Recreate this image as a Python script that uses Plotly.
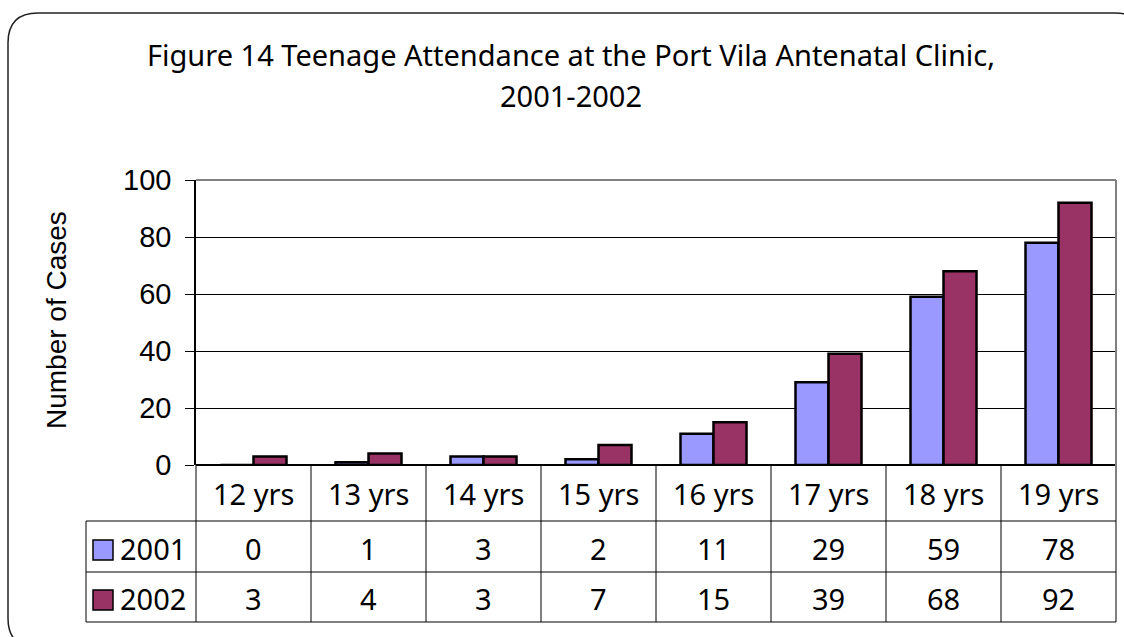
# Teenage attendance chart - grouped bars with a data table underneath,
# drawn the way the old spreadsheet chart looked.

import plotly.graph_objects as go

# data
age_groups = ["12 yrs", "13 yrs", "14 yrs", "15 yrs", "16 yrs", "17 yrs", "18 yrs", "19 yrs"]
cases_2001 = [0, 1, 3, 2, 11, 29, 59, 78]
cases_2002 = [3, 4, 3, 7, 15, 39, 68, 92]
series_names = ["2001", "2002"]
series_colors = ["#9999FF", "#993366"]
y_ticks = [0, 20, 40, 60, 80, 100]

W, H = 1124, 637
PLOT_L, PLOT_R, PLOT_T, PLOT_B = 196, 1116, 180, 465

TABLE_FONT = "Noto Sans, DejaVu Sans, sans-serif"
AXIS_FONT = "Liberation Sans, Arial, sans-serif"


def px_x(px):
    # pixel column -> paper x
    return (px - PLOT_L) / (PLOT_R - PLOT_L)


def px_y(py):
    # pixel row -> paper y
    return (PLOT_B - py) / (PLOT_B - PLOT_T)


def label(x, y, text, size=29, family=TABLE_FONT, xref="paper", xanchor="center", angle=0):
    # plain text annotation, anchored explicitly so paper-ref auto anchoring doesn't move it
    return dict(x=x, xref=xref, y=y, yref="paper", text=text, showarrow=False,
                xanchor=xanchor, yanchor="middle", textangle=angle,
                font=dict(family=family, size=size, color="black"))


fig = go.Figure()

for name, values, color in zip(series_names, [cases_2001, cases_2002], series_colors):
    fig.add_trace(go.Bar(
        x=age_groups,
        y=values,
        name=name,
        marker=dict(color=color, line=dict(color="black", width=2.5)),
        showlegend=False,
    ))

shapes = []
annotations = []

# rounded outer frame (runs off the right and bottom edges like the original)
x0, y0, x1, y1, r = 8, 13, 1145, 648, 30
frame_path = (
    f"M {px_x(x0)},{px_y(y0 + r)} "
    f"Q {px_x(x0)},{px_y(y0)} {px_x(x0 + r)},{px_y(y0)} "
    f"L {px_x(x1 - r)},{px_y(y0)} "
    f"Q {px_x(x1)},{px_y(y0)} {px_x(x1)},{px_y(y0 + r)} "
    f"L {px_x(x1)},{px_y(y1 - r)} "
    f"Q {px_x(x1)},{px_y(y1)} {px_x(x1 - r)},{px_y(y1)} "
    f"L {px_x(x0 + r)},{px_y(y1)} "
    f"Q {px_x(x0)},{px_y(y1)} {px_x(x0)},{px_y(y1 - r)} Z"
)
shapes.append(dict(type="path", xref="paper", yref="paper", path=frame_path,
                   line=dict(color="#222222", width=1.5), layer="below"))

# grey plot area border on top and right
shapes.append(dict(type="line", xref="paper", yref="paper", x0=0, x1=1, y0=1, y1=1,
                   line=dict(color="#808080", width=2)))
shapes.append(dict(type="line", xref="paper", yref="paper", x0=1, x1=1, y0=1, y1=px_y(622),
                   line=dict(color="#808080", width=2)))

# data table grid
row_lines = [521, 572, 622]
for py in row_lines:
    shapes.append(dict(type="line", xref="paper", yref="paper",
                       x0=px_x(86), x1=1, y0=px_y(py), y1=px_y(py),
                       line=dict(color="black", width=1)))
shapes.append(dict(type="line", xref="paper", yref="paper",
                   x0=px_x(86), x1=px_x(86), y0=px_y(521), y1=px_y(622),
                   line=dict(color="black", width=1)))
n = len(age_groups)
for i in range(n):
    xp = i / n
    shapes.append(dict(type="line", xref="paper", yref="paper",
                       x0=xp, x1=xp, y0=0, y1=px_y(622),
                       line=dict(color="black", width=1)))

# category labels and values in the table
row_centers = [493, 548, 598]
for i, cat in enumerate(age_groups):
    annotations.append(label(cat, px_y(row_centers[0]), cat, xref="x"))
    for values, py in zip([cases_2001, cases_2002], row_centers[1:]):
        annotations.append(label(cat, px_y(py), str(values[i]), xref="x"))

# legend keys inside the table
for name, color, py in zip(series_names, series_colors, row_centers[1:]):
    shapes.append(dict(type="rect", xref="paper", yref="paper",
                       x0=px_x(93), x1=px_x(113), y0=px_y(py - 8), y1=px_y(py + 12),
                       fillcolor=color, line=dict(color="black", width=1.5)))
    annotations.append(label(px_x(118), px_y(py), name, xanchor="left"))

# title, two lines
annotations.append(label(px_x(571), px_y(55),
                         "Figure 14 Teenage Attendance at the Port Vila Antenatal Clinic,"))
annotations.append(label(px_x(571), px_y(96), "2001-2002"))

# y axis title
annotations.append(label(px_x(56), px_y(320), "Number of Cases", size=28,
                         family=AXIS_FONT, angle=-90))

fig.update_layout(
    width=W,
    height=H,
    margin=dict(l=PLOT_L, r=W - PLOT_R, t=PLOT_T, b=H - PLOT_B, autoexpand=False),
    paper_bgcolor="white",
    plot_bgcolor="white",
    barmode="group",
    bargap=0.426,
    bargroupgap=0,
    shapes=shapes,
    annotations=annotations,
    xaxis=dict(
        showticklabels=False,
        showgrid=False,
        showline=False,
        zeroline=False,
        ticks="",
        fixedrange=True,
    ),
    yaxis=dict(
        range=[0, 100],
        tickvals=y_ticks,
        showgrid=True,
        gridcolor="black",
        gridwidth=1,
        showline=True,
        linecolor="black",
        linewidth=1.5,
        zeroline=True,
        zerolinecolor="black",
        zerolinewidth=1.5,
        ticks="outside",
        ticklen=9,
        tickcolor="black",
        ticklabelstandoff=8,
        tickfont=dict(family=AXIS_FONT, size=29, color="black"),
        fixedrange=True,
    ),
)

# the page body has an 8px default margin; drop it so the figure sits at the window corner
fig.write_html("out.html", config={"displayModeBar": False},
               post_script="document.body.style.margin = '0';")
